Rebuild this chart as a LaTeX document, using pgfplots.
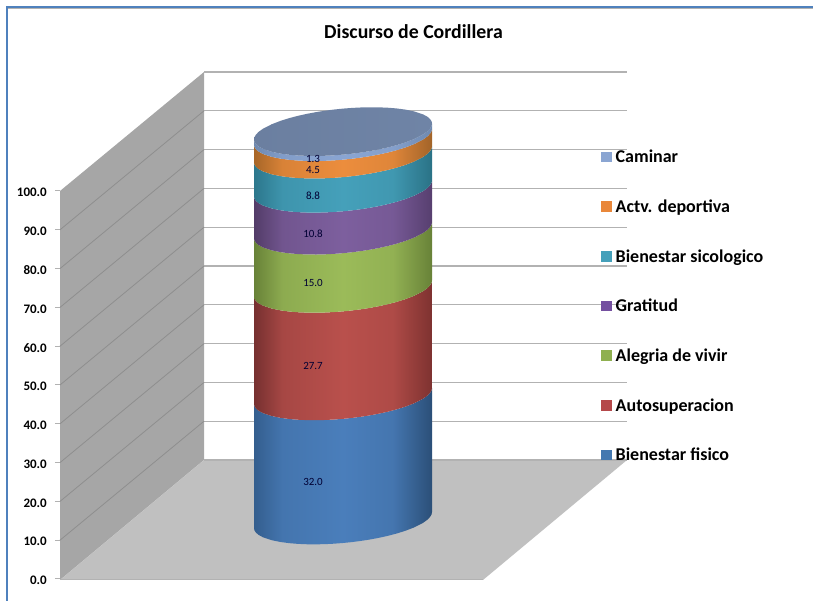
\documentclass[border=0pt]{standalone}
\usepackage{pgfplots}
\usepackage{pgfplotstable}
\usepackage{fontspec}
\setmainfont{Carlito}
\pgfplotsset{compat=1.18}
\pgfplotstableread{
x d lo c
254 -2.062 0 -2.062
254.4 -2.644 0 -2.644
255.8 -3.201 0 -3.201
258.4 -3.810 0 -3.810
262.9 -4.440 0 -4.440
271.8 -5.207 0 -5.207
280.7 -5.676 0 -5.676
289.6 -5.979 0 -5.979
298.5 -6.165 0 -6.165
307.4 -6.258 0 -6.258
316.3 -6.274 0 -6.274
325.2 -6.220 0 -6.220
334.1 -6.104 0 -6.104
343 -5.928 0 -5.928
351.9 -5.692 0 -5.692
360.8 -5.396 0 -5.396
369.7 -5.036 0 -5.036
378.6 -4.608 0 -4.608
387.5 -4.103 0 -4.103
396.4 -3.505 0 -3.505
405.3 -2.790 0 -2.790
414.2 -1.907 0 -1.907
423.1 -0.728 0 -0.728
427.6 0.108 0 0.108
430.2 0.841 0 0.841
431.6 1.460 0 1.460
432 2.062 0 2.062
432 2.062 1 2.062
431.6 1.460 1 2.644
430.2 0.841 1 3.201
427.6 0.108 1 3.810
423.1 -0.728 1 4.440
414.2 -1.907 1 5.207
405.3 -2.790 1 5.676
396.4 -3.505 1 5.979
387.5 -4.103 1 6.165
378.6 -4.608 1 6.258
369.7 -5.036 1 6.274
360.8 -5.396 1 6.220
351.9 -5.692 1 6.104
343 -5.928 1 5.928
334.1 -6.104 1 5.692
325.2 -6.220 1 5.396
316.3 -6.274 1 5.036
307.4 -6.258 1 4.608
298.5 -6.165 1 4.103
289.6 -5.979 1 3.505
280.7 -5.676 1 2.790
271.8 -5.207 1 1.907
262.9 -4.440 1 0.728
258.4 -3.810 1 -0.108
255.8 -3.201 1 -0.841
254.4 -2.644 1 -1.460
254 -2.062 1 -2.062
}\arc
\newcommand{\seg}[3]{%
  \addplot[draw=none,mark=none,forget plot,shade,shading=cyl#3]
    table[x=x,y expr=\thisrow{d}+15.206+#1+#2*\thisrow{lo}] {\arc};}
\newcommand{\mkshade}[4]{%
  \definecolor{#1L}{HTML}{#2}\definecolor{#1M}{HTML}{#3}\definecolor{#1R}{HTML}{#4}%
  \colorlet{#1A}{#1M!72!#1L}\colorlet{#1B}{#1M!82!#1R}%
  \pgfdeclarehorizontalshading{cyl#1}{100bp}{color(0bp)=(#1L); color(25bp)=(#1L); color(33bp)=(#1A); color(50bp)=(#1M); color(64bp)=(#1B); color(75bp)=(#1R); color(100bp)=(#1R)}}
\definecolor{wall}{HTML}{A6A6A6}
\definecolor{floorc}{HTML}{C0C0C0}
\definecolor{gridc}{HTML}{B2B2B2}
\definecolor{wgrid}{HTML}{8E8E8E}
\definecolor{framec}{HTML}{4F81BD}
\mkshade{a}{345E8E}{4A7EBB}{2B4F78}
\mkshade{b}{763030}{B9504C}{7E3230}
\mkshade{c}{688238}{9BBB59}{688238}
\mkshade{d}{533C68}{7D5F9E}{573F6F}
\mkshade{e}{2C778C}{45A0BA}{2A7286}
\mkshade{f}{A76628}{EC8D3D}{A26429}
\mkshade{g}{6E89B0}{8AA5D2}{6E89B0}
\definecolor{capL}{HTML}{6B7FA0}\definecolor{capR}{HTML}{6F84A6}
\definecolor{lg}{HTML}{8AA5D2}\definecolor{lf}{HTML}{E9873A}\definecolor{le}{HTML}{45A0BA}
\definecolor{ld}{HTML}{7450A0}\definecolor{lc}{HTML}{8FB050}\definecolor{lb}{HTML}{B5484A}\definecolor{la}{HTML}{4478B0}
\begin{document}
\begin{tikzpicture}
\path[use as bounding box] (0,0) rectangle (813pt,601pt);
\begin{axis}[
  name=main, at={(0,0)}, anchor=south west,
  scale only axis, width=813pt, height=601pt,
  xmin=0, xmax=813, ymin=-5.67, ymax=149.23,
  axis lines=none, clip=false,
  unbounded coords=jump,
  legend style={draw=none, fill=none, at={(axis cs:601,111.1)}, anchor=north west,
    font=\fontsize{18}{20}\selectfont\bfseries, row sep=31.55pt, inner sep=0pt,
    cells={anchor=west}, /tikz/column 1/.style={column sep=2pt}},
  legend cell align=left,
  legend image code/.code={\fill[#1,draw=none] (0pt,-5pt) rectangle (10.5pt,5.5pt);},
]
% frame
\addplot[color=gridc,line width=1pt,mark=none,forget plot] coordinates {(8,147.0)(813,147.0)};
\addplot[color=framec,line width=2.4pt,mark=none,forget plot] coordinates {(7,-5.67)(7,147.4)(813,147.4)};
% walls and floor
\addplot[fill=wall,draw=none,mark=none,forget plot] coordinates {(60,-0.25)(204,30.67)(204,130.67)(60,100)};
\addplot[fill=floorc,draw=none,mark=none,forget plot] coordinates {(60,-0.25)(204,30.67)(627,30.67)(483,-0.25)};
\addplot[color=gridc,line width=1.3pt,mark=none,forget plot] coordinates {
 (204,30.67)(627,30.67)(nan,nan)
 (204,40.67)(627,40.67)(nan,nan)
 (204,50.67)(627,50.67)(nan,nan)
 (204,60.67)(627,60.67)(nan,nan)
 (204,70.67)(627,70.67)(nan,nan)
 (204,80.67)(627,80.67)(nan,nan)
 (204,90.67)(627,90.67)(nan,nan)
 (204,100.67)(627,100.67)(nan,nan)
 (204,110.67)(627,110.67)(nan,nan)
 (204,120.67)(627,120.67)(nan,nan)
 (204,130.67)(627,130.67)};
\addplot[color=wgrid,line width=0.8pt,mark=none,forget plot] coordinates {
 (60,10)(204,40.67)(nan,nan)
 (60,20)(204,50.67)(nan,nan)
 (60,30)(204,60.67)(nan,nan)
 (60,40)(204,70.67)(nan,nan)
 (60,50)(204,80.67)(nan,nan)
 (60,60)(204,90.67)(nan,nan)
 (60,70)(204,100.67)(nan,nan)
 (60,80)(204,110.67)(nan,nan)
 (60,90)(204,120.67)};
\addplot[color=gridc,line width=1pt,mark=none,forget plot] coordinates {(60,-0.25)(483,-0.25)};
% cylinder: base, height of each stacked segment
\seg{0}{32.0}{a}
\seg{32.0}{27.7}{b}
\seg{59.7}{15.0}{c}
\seg{74.7}{10.8}{d}
\seg{85.5}{8.8}{e}
\seg{94.3}{4.5}{f}
\seg{98.8}{1.3}{g}
\addplot[draw=none,mark=none,forget plot,left color=capL,right color=capR]
  table[x=x,y expr=\thisrow{c}+15.206+100.1] {\arc};
% data labels
\addplot[draw=none,mark=none,forget plot,point meta=explicit symbolic,
  nodes near coords,nodes near coords style={anchor=center,inner sep=0pt,text=black!80!blue,font=\fontsize{11}{12}\selectfont}]
  table[x=x,y=y,meta=l] {
x y l
313 25.0 32.0
313 54.9 27.7
313 76.3 15.0
313 88.9 10.8
313 98.7 8.8
313 105.3 4.5
313 108.2 1.3
};
% title
\node[font=\fontsize{19.8}{22}\selectfont\bfseries,anchor=center] at (axis cs:413.5,141) {Discurso de Cordillera};
% legend
\addlegendimage{fill=lg}\addlegendentry{Caminar}
\addlegendimage{fill=lf}\addlegendentry{Actv. deportiva}
\addlegendimage{fill=le}\addlegendentry{Bienestar sicologico}
\addlegendimage{fill=ld}\addlegendentry{Gratitud}
\addlegendimage{fill=lc}\addlegendentry{Alegria de vivir}
\addlegendimage{fill=lb}\addlegendentry{Autosuperacion}
\addlegendimage{fill=la}\addlegendentry{Bienestar fisico}
\end{axis}
\begin{axis}[
  at={(60pt,22pt)}, anchor=south west,
  scale only axis, width=423pt, height=388pt,
  xmin=0, xmax=1, ymin=0, ymax=100,
  axis x line=none, axis y line=left,
  axis line style={draw=none},
  ytick={0,10,...,100}, tick align=outside, major tick length=5pt,
  tick style={color=gridc,line width=1pt},
  yticklabel style={/pgf/number format/fixed,/pgf/number format/fixed zerofill,
    /pgf/number format/precision=1,/pgf/number format/assume math mode=true,
    font=\fontsize{13}{15}\selectfont\bfseries, inner sep=2pt, xshift=-6pt, yshift=-1.5pt},
]
\addplot[draw=none,mark=none] coordinates {(0,0)(1,100)};
\end{axis}
\end{tikzpicture}
\end{document}
